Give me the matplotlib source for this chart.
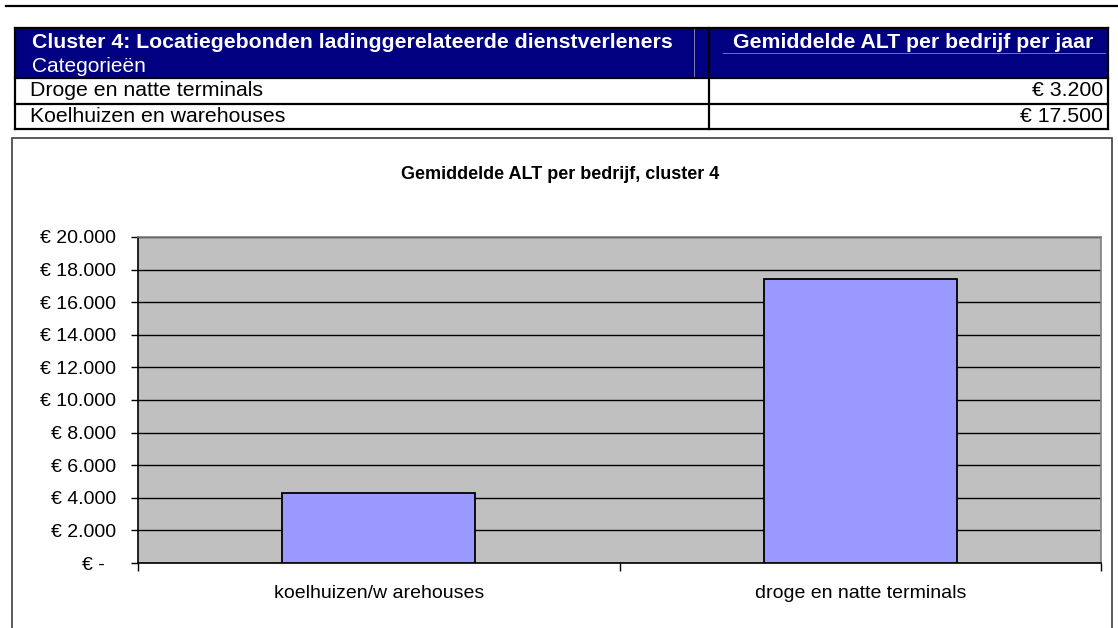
import matplotlib
matplotlib.use("Agg")
import matplotlib.pyplot as plt
from matplotlib.patches import Rectangle
from matplotlib.lines import Line2D
from matplotlib.ticker import FixedLocator, FuncFormatter

# ---- data ----
table_title = "Cluster 4: Locatiegebonden ladinggerelateerde dienstverleners"
table_subtitle = "Categorieën"
table_value_header = "Gemiddelde ALT per bedrijf per jaar"
table_categories = ["Droge en natte terminals", "Koelhuizen en warehouses"]
table_values = [3200, 17500]

chart_title = "Gemiddelde ALT per bedrijf, cluster 4"
chart_categories = ["koelhuizen/w arehouses", "droge en natte terminals"]
chart_values = [4300, 17400]
y_ticks = list(range(0, 20001, 2000))

W, H = 1118, 628
plt.rcParams['font.family'] = ['Liberation Sans', 'DejaVu Sans']

fig = plt.figure(figsize=(W / 100, H / 100), dpi=100)
fig.patch.set_facecolor("white")


def X(px):
    return px / W


def Y(py):
    return 1 - py / H


def euro(v, pos=None):
    if v == 0:
        return "€ -  "
    return "€ " + f"{v:,.0f}".replace(",", ".")


# ---- top rule ----
fig.add_artist(Line2D([X(6), X(1118)], [Y(6), Y(6)], color="black", lw=1.6))

# ---- table ----
tl, tr, tsplit = 15, 1108, 709
t_top, h_bot, r1_bot, r2_bot = 28, 77.5, 103.5, 129
navy = "#000080"
fig.add_artist(Rectangle((X(tl), Y(h_bot)), X(tr) - X(tl), Y(t_top) - Y(h_bot),
                         facecolor=navy, edgecolor="none"))
# thin light lines in header
fig.add_artist(Line2D([X(694), X(694)], [Y(t_top + 1), Y(h_bot)], color="#8080b0", lw=0.7))
fig.add_artist(Line2D([X(723), X(1105)], [Y(53), Y(53)], color="#7070b8", lw=0.7))
# borders
for yy in (t_top, h_bot, r1_bot, r2_bot):
    fig.add_artist(Line2D([X(tl), X(tr)], [Y(yy), Y(yy)], color="black", lw=1.6))
for xx in (tl, tsplit, tr):
    fig.add_artist(Line2D([X(xx), X(xx)], [Y(t_top), Y(r2_bot)], color="black", lw=1.6))

fig.text(X(32), Y(42), table_title, color="white", fontsize=15.3, fontweight="bold",
         ha="left", va="center")
fig.text(X(32), Y(67), table_subtitle, color="white", fontsize=15,
         ha="left", va="center")
fig.text(X(913), Y(42), table_value_header, color="white", fontsize=15.3, fontweight="bold",
         ha="center", va="center")
row_y = [91, 117]
for cat, val, ry in zip(table_categories, table_values, row_y):
    fig.text(X(30), Y(ry), cat, color="black", fontsize=15.3, ha="left", va="center")
    fig.text(X(1103), Y(ry), euro(val), color="black", fontsize=15.3, ha="right", va="center")

# ---- chart box ----
fig.add_artist(Rectangle((X(12), Y(640)), X(1112) - X(12), Y(138) - Y(640),
                         facecolor="none", edgecolor="#404040", lw=1.2))
fig.text(X(560), Y(174), chart_title, color="black", fontsize=13, fontweight="bold",
         ha="center", va="center")

# ---- plot area ----
pl, pr, pt, pb = 138, 1101, 237, 563
ax = fig.add_axes([X(pl), Y(pb), X(pr) - X(pl), Y(pt) - Y(pb)])
ax.set_facecolor("#c0c0c0")
xs = list(range(len(chart_categories)))
ax.bar(xs, chart_values, width=0.4, color="#9999ff", edgecolor="black", linewidth=1.3, zorder=3)
ax.set_xlim(-0.5, len(chart_categories) - 0.5)
ax.set_ylim(0, 20000)
ax.yaxis.set_major_locator(FixedLocator(y_ticks))
ax.yaxis.set_major_formatter(FuncFormatter(euro))
ax.grid(axis="y", color="black", lw=1.0, zorder=1)
ax.set_axisbelow(True)
ax.set_xticks(xs)
ax.set_xticklabels(chart_categories)
ax.set_xticks([i - 0.5 for i in range(len(chart_categories) + 1)], minor=True)
ax.tick_params(axis="x", which="major", length=0, pad=16, labelsize=14)
ax.tick_params(axis="x", which="minor", length=6, width=1.0, direction="out", color="black")
ax.tick_params(axis="y", which="major", length=5, width=1.0, direction="out", pad=11,
               labelsize=14, color="black")
for side in ("top", "right"):
    ax.spines[side].set_color("#808080")
    ax.spines[side].set_linewidth(1.2)
for side in ("left", "bottom"):
    ax.spines[side].set_color("black")
    ax.spines[side].set_linewidth(1.2)

fig.savefig("out.png", dpi=100)
